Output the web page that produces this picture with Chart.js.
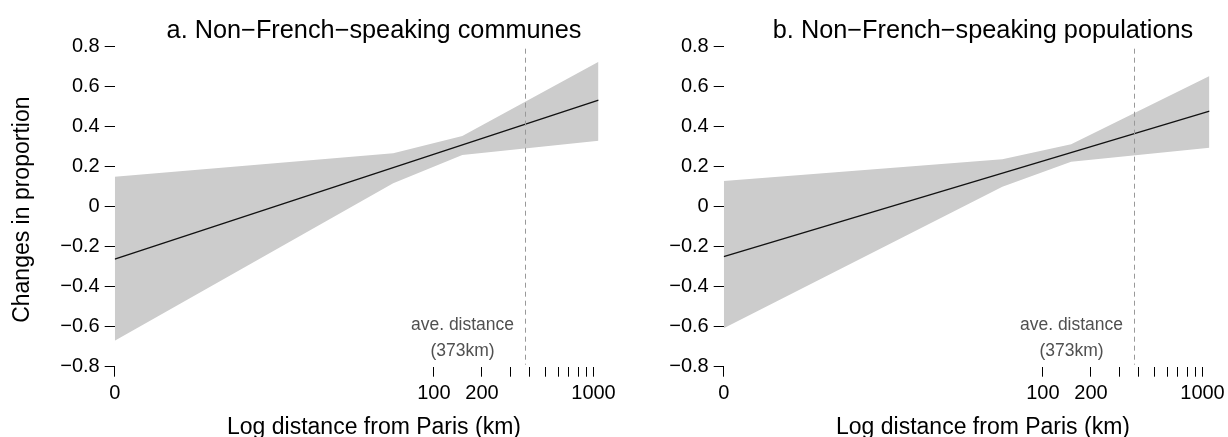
<!DOCTYPE html>
<html>
<head>
<meta charset="utf-8">
<script src="https://cdn.jsdelivr.net/npm/chart.js@4.4.1/dist/chart.umd.min.js"></script>
<style>
  body { margin: 0; background: #fff; width: 1228px; height: 437px; overflow: hidden; }
  #wrap { position: relative; width: 1228px; height: 437px; }
  canvas { position: absolute; top: 0; }
  #chartA { left: 0; }
  #chartB { left: 609px; }
</style>
</head>
<body>
<div id="wrap">
  <canvas id="chartA" width="619" height="437"></canvas>
  <canvas id="chartB" width="619" height="437"></canvas>
</div>
<script>
// x values are log10(distance in km)
const xTickKm = [1, 100, 200, 300, 400, 500, 600, 700, 800, 900, 1000];
const xTickLabels = ["0", "100", "200", "", "", "", "", "", "", "", "1000"];
const yTicks = [-0.8, -0.6, -0.4, -0.2, 0, 0.2, 0.4, 0.6, 0.8];
const aveDistanceKm = 373;

// panel a: non-French-speaking communes
const bandXA = [0, 1.745, 2.178, 3.032];
const upperA = [0.15, 0.267, 0.353, 0.725];
const lowerA = [-0.67, 0.117, 0.258, 0.33];
const lineXA = [0, 3.032];
const lineYA = [-0.262, 0.533];

// panel b: non-French-speaking populations
const bandXB = [0, 1.746, 2.177, 3.044];
const upperB = [0.128, 0.237, 0.312, 0.653];
const lowerB = [-0.608, 0.10, 0.225, 0.295];
const lineXB = [0, 3.044];
const lineYB = [-0.25, 0.478];

const FONT = "'Liberation Sans', Arial, Helvetica, sans-serif";
Chart.defaults.font.family = FONT;
Chart.defaults.color = "#000";

const xTickVals = xTickKm.map(d => Math.log10(d));

function pts(xs, ys) {
	return xs.map((x, i) => ({ x: x, y: ys[i] }));
}

function fmtY(v) {
	const r = Math.round(v * 10) / 10;
	if (r === 0) return "0";
	return r < 0 ? "\u2212" + Math.abs(r).toFixed(1) : r.toFixed(1);
}

// titles, dashed average line and its note
const panelText = {
	id: "panelText",
	afterDatasetsDraw(chart, args, opts) {
		const ctx = chart.ctx;
		const x = chart.scales.x;
		const y = chart.scales.y;
		const area = chart.chartArea;
		ctx.save();

		// dashed vertical line at the average distance
		const dx = Math.round(x.getPixelForValue(Math.log10(aveDistanceKm))) + 0.5;
		ctx.strokeStyle = "#999";
		ctx.lineWidth = 1;
		ctx.setLineDash([5, 4]);
		ctx.beginPath();
		ctx.moveTo(dx, area.top + 2);
		ctx.lineTo(dx, area.bottom - 2);
		ctx.stroke();
		ctx.setLineDash([]);

		ctx.fillStyle = "#505050";
		ctx.font = "17.5px " + FONT;
		ctx.textAlign = "center";
		ctx.textBaseline = "middle";
		ctx.fillText("ave. distance", dx - 63, y.getPixelForValue(-0.59));
		ctx.fillText("(" + aveDistanceKm + "km)", dx - 63, y.getPixelForValue(-0.72));

		ctx.fillStyle = "#000";
		ctx.textBaseline = "alphabetic";
		ctx.font = "25.3px " + FONT;
		ctx.fillText(opts.title, 374, 38);
		ctx.font = "23px " + FONT;
		ctx.fillText("Log distance from Paris (km)", 374, 434);

		if (opts.yTitle) {
			ctx.translate(23, (area.top + area.bottom) / 2 + 3);
			ctx.rotate(-Math.PI / 2);
			ctx.textBaseline = "middle";
			ctx.fillText(opts.yTitle, 0, 0);
		}
		ctx.restore();
	}
};

function makePanel(id, title, yTitle, bandX, upper, lower, lineX, lineY) {
	const xMax = bandX[bandX.length - 1];
	const pxPerDecade = 159.6;
	const left = 114.7;
	const rightPad = 619 - (left + xMax * pxPerDecade);
	return new Chart(document.getElementById(id), {
		type: "line",
		data: {
			datasets: [
				{
					// fitted line, first so it is drawn on top
					data: pts(lineX, lineY),
					borderColor: "#111",
					borderWidth: 1.4,
					pointRadius: 0,
					fill: false,
					tension: 0
				},
				{
					data: pts(bandX, upper),
					borderWidth: 0,
					pointRadius: 0,
					backgroundColor: "#cccccc",
					fill: "+1",
					tension: 0
				},
				{
					data: pts(bandX, lower),
					borderWidth: 0,
					pointRadius: 0,
					fill: false,
					tension: 0
				}
			]
		},
		options: {
			responsive: false,
			animation: false,
			layout: { padding: { top: 46.7, right: rightPad, left: 0, bottom: 0 } },
			plugins: {
				legend: { display: false },
				tooltip: { enabled: false },
				panelText: { title: title, yTitle: yTitle }
			},
			scales: {
				x: {
					type: "linear",
					min: 0,
					max: xMax,
					border: { display: false },
					grid: { drawOnChartArea: false, drawTicks: true, tickLength: 10, color: "#000", lineWidth: 1 },
					ticks: {
						autoSkip: false,
						maxRotation: 0,
						padding: 5,
						font: { size: 20 },
						color: "#000",
						callback: (v) => {
							const i = xTickVals.findIndex(t => Math.abs(t - v) < 1e-9);
							return i >= 0 ? xTickLabels[i] : "";
						}
					},
					afterBuildTicks: (s) => { s.ticks = xTickVals.map(v => ({ value: v })); },
					afterFit: (s) => { s.height = 437 - 366.7; s.paddingLeft = 0; s.paddingRight = 0; }
				},
				y: {
					min: -0.8,
					max: 0.8,
					border: { display: false },
					grid: { drawOnChartArea: false, drawTicks: true, tickLength: 10, color: "#000", lineWidth: 1 },
					ticks: {
						padding: 5,
						font: { size: 20 },
						color: "#000",
						callback: (v) => fmtY(v)
					},
					afterBuildTicks: (s) => { s.ticks = yTicks.map(v => ({ value: v })); },
					afterFit: (s) => { s.width = 114.7; s.paddingTop = 0; s.paddingBottom = 0; }
				}
			}
		},
		plugins: [panelText]
	});
}

makePanel("chartA", "a. Non\u2212French\u2212speaking communes", "Changes in proportion",
	bandXA, upperA, lowerA, lineXA, lineYA);
makePanel("chartB", "b. Non\u2212French\u2212speaking populations", null,
	bandXB, upperB, lowerB, lineXB, lineYB);
</script>
</body>
</html>
